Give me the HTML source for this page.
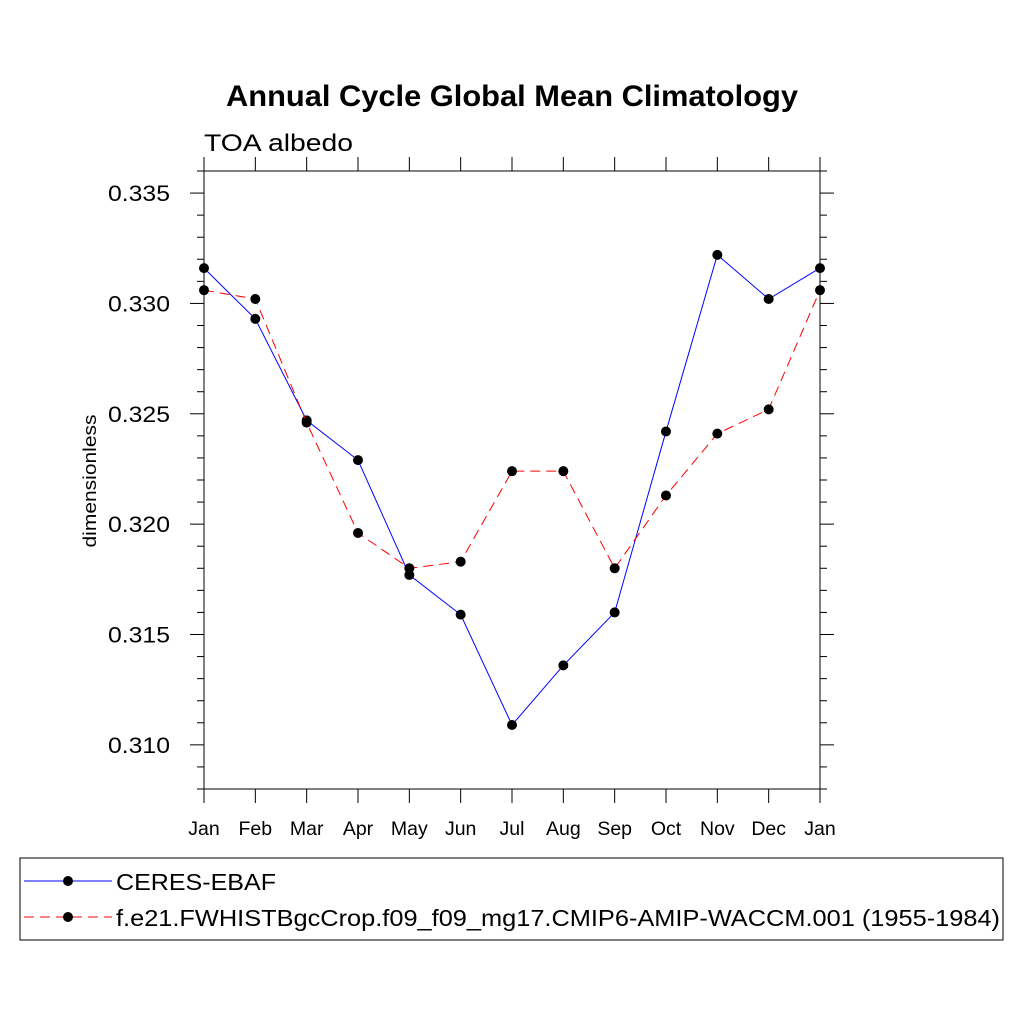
<!DOCTYPE html>
<html><head><meta charset="utf-8"><style>
body{margin:0;background:#fff;}
svg{display:block;font-family:"Liberation Sans",Arial,sans-serif;}
</style></head><body>
<svg id="chart" width="1024" height="1024">
<text x="512" y="106" text-anchor="middle" font-size="30" font-weight="bold" textLength="572" lengthAdjust="spacingAndGlyphs">Annual Cycle Global Mean Climatology</text>
<text x="204" y="151" font-size="24" textLength="149" lengthAdjust="spacingAndGlyphs">TOA albedo</text>
<text transform="translate(96,481) rotate(-90)" text-anchor="middle" font-size="18" textLength="133" lengthAdjust="spacingAndGlyphs">dimensionless</text>
<g id="axes"></g>
<g id="series"></g>
<rect x="20" y="858" width="983" height="82" fill="none" stroke="#000" stroke-width="1"/>
<g>
<line x1="24" y1="881" x2="112" y2="881" stroke="#00f" stroke-width="1"/>
<circle cx="68" cy="881" r="5" fill="#000"/>
<text x="116" y="890" font-size="23" textLength="160" lengthAdjust="spacingAndGlyphs">CERES-EBAF</text>
</g>
<g>
<line x1="24" y1="917" x2="112" y2="917" stroke="#f00" stroke-width="1" stroke-dasharray="10,6"/>
<circle cx="68" cy="917" r="5" fill="#000"/>
<text x="116" y="926" font-size="23" textLength="884" lengthAdjust="spacingAndGlyphs">f.e21.FWHISTBgcCrop.f09_f09_mg17.CMIP6-AMIP-WACCM.001 (1955-1984)</text>
</g>
</svg>
<script>
const months = ["Jan","Feb","Mar","Apr","May","Jun","Jul","Aug","Sep","Oct","Nov","Dec","Jan"];
const ceres = [0.3316,0.3293,0.3247,0.3229,0.3177,0.3159,0.3109,0.3136,0.3160,0.3242,0.3322,0.3302,0.3316];
const model = [0.3306,0.3302,0.3246,0.3196,0.3180,0.3183,0.3224,0.3224,0.3180,0.3213,0.3241,0.3252,0.3306];
const yTicks = [0.310,0.315,0.320,0.325,0.330,0.335];
const yTickLabels = ["0.310","0.315","0.320","0.325","0.330","0.335"];
const yMin = 0.308, yMax = 0.336;
const L=204,R=820,T=171,B=789;
const NS="http://www.w3.org/2000/svg";
const xs = i => L + i*(R-L)/(months.length-1);
const ys = v => B - (v-yMin)/(yMax-yMin)*(B-T);
function mk(tag, attrs, parent){const e=document.createElementNS(NS,tag);for(const k in attrs)e.setAttribute(k,attrs[k]);parent.appendChild(e);return e;}
const ax=document.getElementById('axes');
const frame=mk('rect',{x:L,y:T,width:R-L,height:B-T,fill:'none',stroke:'#000','stroke-width':1},ax);


for(let k=Math.ceil(yMin*1000);k<=Math.floor(yMax*1000);k++){
  const v=k/1000, y=ys(v), major=(k%5===0), len=major?14:7;
  mk('line',{x1:L-len,y1:y,x2:L,y2:y,stroke:'#000','stroke-width':1},ax);
  mk('line',{x1:R,y1:y,x2:R+len,y2:y,stroke:'#000','stroke-width':1},ax);
}
yTicks.forEach((v,i)=>{
  const t=mk('text',{x:108,y:ys(v)+8,'font-size':22,textLength:62,lengthAdjust:'spacingAndGlyphs'},ax);
  t.textContent=yTickLabels[i];
  
  
});
months.forEach((m,i)=>{
  const x=xs(i);
  mk('line',{x1:x,y1:B,x2:x,y2:B+14,stroke:'#000','stroke-width':1},ax);
  mk('line',{x1:x,y1:T-14,x2:x,y2:T,stroke:'#000','stroke-width':1},ax);
  const t=mk('text',{x:x,y:835,'text-anchor':'middle','font-size':19.5},ax);
  t.textContent=m;
  
  
});
const sg=document.getElementById('series');
function drawSeries(vals,color,dash,name){
  const g=mk('g',{},sg);
  
  
  const pts=vals.map((v,i)=>xs(i)+','+ys(v)).join(' ');
  const a={points:pts,fill:'none',stroke:color,'stroke-width':1};
  if(dash)a['stroke-dasharray']=dash;
  mk('polyline',a,g);
  vals.forEach((v,i)=>{
    const c=mk('circle',{cx:xs(i),cy:ys(v),r:5,fill:'#000'},g);
    
    
  });
}
drawSeries(ceres,'#00f',null,'series-ceres');
drawSeries(model,'#f00','10,6','series-model');
</script>
</body></html>
